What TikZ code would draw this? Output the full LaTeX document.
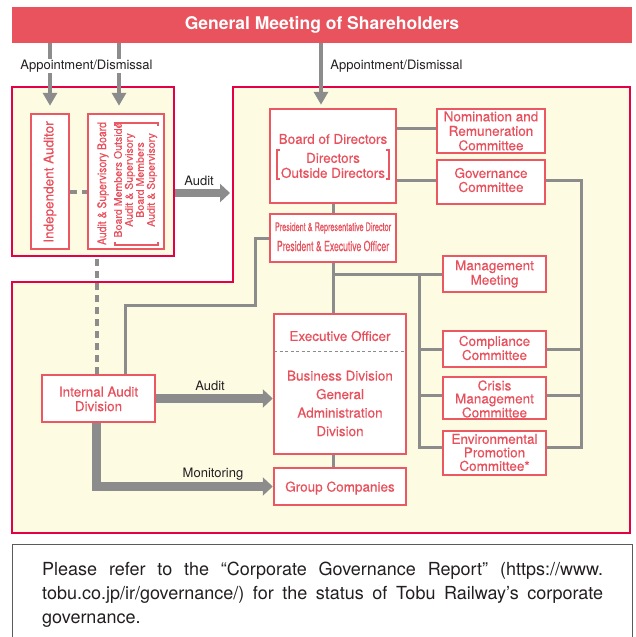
\documentclass[tikz,border=0pt]{standalone}
\usepackage{fontspec}
\setmainfont{TeX Gyre Heros}
\newfontfamily\medfont[FakeBold=0.35]{TeX Gyre Heros}
\newfontfamily\narrowA[FakeStretch=0.62,FakeBold=0.3]{TeX Gyre Heros}
\newfontfamily\narrowB[FakeStretch=0.87,FakeBold=0.3]{TeX Gyre Heros}
\usetikzlibrary{arrows.meta,calc}
\pgfdeclarelayer{frames}
\pgfdeclarelayer{lines}
\pgfsetlayers{frames,lines,main}
\definecolor{bannerred}{RGB}{232,83,94}
\definecolor{framered}{RGB}{228,0,70}
\definecolor{cream}{RGB}{254,251,227}
\definecolor{boxred}{RGB}{235,88,98}
\definecolor{textred}{RGB}{232,80,92}
\definecolor{linegray}{RGB}{140,140,140}
\definecolor{notegray}{RGB}{90,90,90}
\definecolor{labelblack}{RGB}{35,31,32}

\begin{document}
\begin{tikzpicture}[x=1pt,y=-1pt,
  frame/.style={draw=framered,fill=cream,line width=2.5pt},
  box/.style={draw=boxred,fill=white,line width=2.5pt,inner sep=0pt},
  inbox/.style={text=textred,align=center,inner sep=0pt},
  conn/.style={draw=linegray,line width=3pt},
  dashline/.style={draw=linegray,line width=3.5pt,dash pattern=on 7pt off 5pt},
  apparrow/.style={draw=linegray,line width=3.5pt,-{Triangle[length=13pt,width=14pt]}},
  bigarrow/.style={draw=linegray,line width=8.5pt,-{Triangle[length=10pt,width=18pt]}},
  lbl/.style={text=labelblack,font=\fontsize{13}{15}\selectfont,inner sep=1pt},
  bracket/.style={draw=boxred,line width=1.2pt},
  fs/.style={font=\medfont\fontsize{13.5}{#1}\selectfont},
]
\useasboundingbox (0,0) rectangle (636,637);

% outer frames
\begin{pgfonlayer}{frames}
\node[frame,minimum width=162pt,minimum height=169pt,inner sep=0pt] (lframe) at (93,171.5) {};
\draw[frame] (12,282) -- (233,282) -- (233,87) -- (630,87) -- (630,533) -- (12,533) -- cycle;
\end{pgfonlayer}

% note box
\node[draw=notegray,line width=1.2pt,minimum width=620pt,minimum height=110pt,
  anchor=north west,inner sep=0pt] (note) at (12,544) {};
\node[anchor=north west,text width=561pt,align=justify,inner sep=0pt,text=labelblack,
  font=\fontsize{18}{24}\selectfont] (notetext) at (42,562)
  {\tolerance=9999 Please refer to the “Corporate Governance Report” (https://www.\linebreak
   tobu.co.jp/ir/governance/) for the status of Tobu Railway’s corporate\linebreak
   governance.};

% banner
\node[fill=bannerred,minimum width=620pt,minimum height=36pt,inner sep=0pt,text=white,
  font=\bfseries\fontsize{17.5}{19}\selectfont] (banner) at (322,25) {General Meeting of Shareholders};

% bus lines and free ends
\coordinate (rbus) at (581,0);
\coordinate (lbus) at (419,0);
\coordinate (rfin) at (230,193);

% boxes
\node[box,minimum width=38pt,minimum height=135pt] (indep) at (50,181.5) {};
\node[box,minimum width=76pt,minimum height=135pt] (asb) at (126,181.5) {};
\node[box,minimum width=126pt,minimum height=94pt] (board) at (333,156) {};
\node[box,minimum width=126pt,minimum height=48pt] (pres) at (333,238) {};
\node[box,minimum width=108pt,minimum height=44pt] (nom) at (491,131) {};
\node[box,minimum width=108pt,minimum height=44pt] (gov) at (491,182) {};
\node[box,minimum width=103pt,minimum height=36pt] (mgmt) at (494.5,274) {};
\node[box,minimum width=103pt,minimum height=36pt] (comp) at (494.5,349) {};
\node[box,minimum width=103pt,minimum height=42pt] (crisis) at (494.5,398) {};
\node[box,minimum width=103pt,minimum height=44pt] (env) at (494.5,453) {};
\node[box,minimum width=132pt,minimum height=140pt] (exec) at (340,384) {};
\node[box,minimum width=132pt,minimum height=37pt] (group) at (340,486.5) {};
\node[box,minimum width=113pt,minimum height=47pt] (iad) at (98.5,398.5) {};

% connectors, kept below the boxes
\begin{pgfonlayer}{lines}
\draw[conn] (board.south) -- (pres.north);
\draw[conn] (pres.south) -- (pres.south |- exec.north);
\draw[conn] (exec.south -| pres.south) -- (group.north -| pres.south);
\draw[conn] ($(board.east |- nom.west)+(0,-3)$) -- ($(nom.west)+(0,-3)$);
\draw[conn] ($(board.east |- gov.west)+(0,-2)$) -- ($(gov.west)+(0,-2)$);
\draw[conn] ($(gov.east)+(0,-2)$) -| ($(rbus |- env.east)+(0,-6)$) -- ($(env.east)+(0,-6)$);
\draw[conn] (comp.east) -- (rbus |- comp.east);
\draw[conn] ($(crisis.east)+(0,-3)$) -- ($(rbus |- crisis.east)+(0,-3)$);
\draw[conn] (pres.south |- mgmt.west) -- (mgmt.west);
\draw[conn] (lbus |- mgmt.west) -- ($(lbus |- env.west)+(0,-6)$) -- ($(env.west)+(0,-6)$);
\draw[conn] (lbus |- comp.west) -- (comp.west);
\draw[conn] ($(lbus |- crisis.west)+(0,-3)$) -- ($(crisis.west)+(0,-3)$);
\draw[conn] (pres.west) -- ++(-13,0) -- ++(0,67) -| ($(iad.north)+(26.5,0)$);
\draw[dashline] ($(lframe.south -| iad.north)+(-1.5,2)$) -- ($(iad.north)+(-1.5,0)$);
\draw[dashline] ($(indep.east)+(0,10.5)$) -- ($(asb.west)+(0,10.5)$);

% thick arrows
\draw[bigarrow] ($(lframe.east)+(0,21.5)$) -- (rfin);
\draw[bigarrow] (iad.east) -- (exec.west |- iad.east);
\draw[bigarrow] ($(iad.south)+(-2,0)$) |- (group.west);

% appointment arrows
\draw[apparrow] (banner.south -| indep.north) -- ($(indep.north)+(0,-7)$);
\draw[apparrow] ($(banner.south -| asb.north)+(-7,0)$) -- ($(asb.north)+(-7,-7)$);
\draw[apparrow] ($(banner.south -| board.north)+(-12,0)$) -- ($(board.north)+(-12,-3)$);
\end{pgfonlayer}

% box texts
\node[inbox,rotate=90,fs=14] (indeptxt) at (50,182) {Independent Auditor};
\node[inbox,rotate=90,font=\narrowB\fontsize{12}{12}\selectfont] (asbtxt) at (103,183.5) {Audit \& Supervisory Board};
\node[inbox,rotate=90,font=\medfont\fontsize{10.6}{11}\selectfont] (asbmem) at (135.5,180)
  {Board Members Outside\\Audit \& Supervisory\\Board Members\\Audit \& Supervisory};
\draw[bracket] (115,242) -- (115,245) -- (158,245) -- (158,242);
\draw[bracket] (115,126) -- (115,123) -- (158,123) -- (158,126);

\node[inbox,fs=14] (boardtxt) at (333,139) {Board of Directors};
\node[inbox,fs=15] (boardmem) at (333,165.5) {Directors\\Outside Directors};
\draw[bracket] (280,150) -- (277,150) -- (277,179) -- (280,179);
\draw[bracket] (386,150) -- (389,150) -- (389,179) -- (386,179);

\node[inbox,font=\narrowA\fontsize{11.8}{12}\selectfont] (presA) at (333,228) {President \& Representative Director};
\node[inbox,font=\narrowA\fontsize{14}{14}\selectfont] (presB) at (333,246) {President \& Executive Officer};

\node[inbox,fs=14.5] (nomtxt) at (nom) {Nomination and\\Remuneration\\Committee};
\node[inbox,fs=14] (govtxt) at ($(gov)+(0,-2)$) {Governance\\Committee};
\node[inbox,fs=14.5] (mgmttxt) at (mgmt) {Management\\Meeting};
\node[inbox,fs=14] (comptxt) at ($(comp)+(0,-1)$) {Compliance\\Committee};
\node[inbox,fs=13] (crisistxt) at ($(crisis)+(0,1)$) {Crisis\\Management\\Committee};
\node[inbox,fs=13.5] (envtxt) at ($(env)+(0,-0.5)$) {Environmental\\Promotion\\Committee*};

\node[inbox,fs=14] (exectxt) at (340,336) {Executive Officer};
\draw[linegray,line width=0.8pt,dash pattern=on 3pt off 2.5pt]
  ($(exec.north west)+(1.25,39)$) -- ($(exec.north east)+(-1.25,39)$);
\node[inbox,fs=18.5] (bizdiv) at (340,403.5)
  {Business Division\\General\\Administration\\Division};
\node[inbox,fs=14] (grouptxt) at (340,488) {Group Companies};
\node[inbox,fs=14.5] (iadtxt) at (98.5,399) {Internal Audit\\Division};

% arrow labels
\node[lbl,fill=white] (app1) at (86.5,66) {Appointment/Dismissal};
\node[lbl] (app2) at (396.5,66) {Appointment/Dismissal};
\node[lbl] (aud1) at (199,181) {Audit};
\node[lbl] (aud2) at (210,386) {Audit};
\node[lbl] (mon) at (213,474) {Monitoring};

\end{tikzpicture}
\end{document}
